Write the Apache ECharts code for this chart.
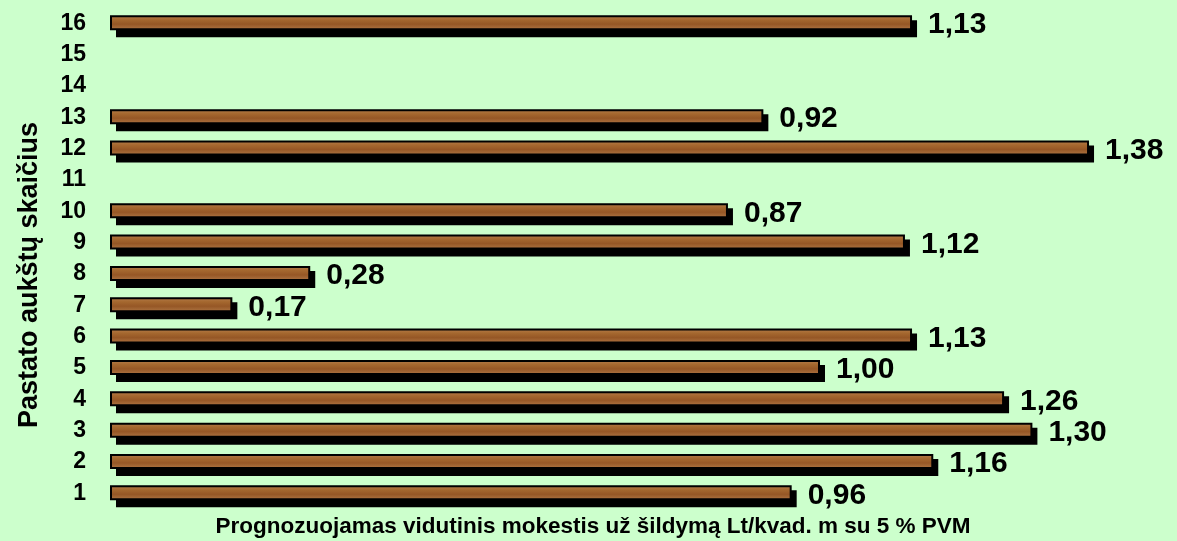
<!DOCTYPE html>
<html>
<head>
<meta charset="utf-8">
<script src="https://cdn.jsdelivr.net/npm/echarts@6/dist/echarts.min.js"></script>
<style>
html,body{margin:0;padding:0;background:#CCFFCC;}
#chart{width:1177px;height:541px;}
</style>
</head>
<body>
<div id="chart"></div>
<script>
const floors = ['1','2','3','4','5','6','7','8','9','10','11','12','13','14','15','16'];
const fees = [0.96, 1.16, 1.30, 1.26, 1.00, 1.13, 0.17, 0.28, 1.12, 0.87, null, 1.38, 0.92, null, null, 1.13];
const yAxisTitle = 'Pastato aukštų skaičius';
const xAxisTitle = 'Prognozuojamas vidutinis mokestis už šildymą Lt/kvad. m su 5 % PVM';

const data = [];
fees.forEach((v, i) => { if (v !== null) data.push([v, i]); });

const wood = new echarts.graphic.LinearGradient(0, 0, 0, 1, [
  {offset: 0, color: '#B7804F'},
  {offset: 0.3, color: '#A5682F'},
  {offset: 0.6, color: '#965726'},
  {offset: 1, color: '#B07846'}
]);

const chart = echarts.init(document.getElementById('chart'));
chart.setOption({
  backgroundColor: '#CCFFCC',
  animation: false,
  grid: {left: 111, right: 4, top: 7.5, bottom: 32},
  xAxis: {
    type: 'value', min: 0, max: 1.5,
    axisLine: {show: false}, axisTick: {show: false}, axisLabel: {show: false}, splitLine: {show: false}
  },
  yAxis: {
    type: 'category', data: floors,
    axisLine: {show: false}, axisTick: {show: false},
    axisLabel: {fontFamily: 'Liberation Sans', fontWeight: 'bold', fontSize: 23, color: '#000', margin: 25}
  },
  graphic: [
    {type: 'text', x: 30, y: 275, rotation: Math.PI / 2,
     style: {text: yAxisTitle, font: 'bold 27px "Liberation Sans"', fill: '#000', textAlign: 'center', textVerticalAlign: 'middle'}},
    {type: 'text', x: 593, y: 527, 
     style: {text: xAxisTitle, font: 'bold 22.5px "Liberation Sans"', fill: '#000', textAlign: 'center', textVerticalAlign: 'middle'}}
  ],
  series: [{
    type: 'custom',
    data: data,
    encode: {x: 0, y: 1},
    renderItem: function (params, api) {
      const v = api.value(0), c = api.value(1);
      const s = api.coord([0, c]);
      const e = api.coord([v, c]);
      const w = e[0] - s[0];
      return {
        type: 'group',
        children: [
          {type: 'rect', shape: {x: s[0] + 5, y: s[1] - 3, width: w + 1, height: 17},
           style: {fill: '#000'}},
          {type: 'rect', shape: {x: s[0], y: s[1] - 7, width: w, height: 13},
           style: {fill: wood, stroke: '#000', lineWidth: 2}},
          {type: 'text', x: e[0] + 17, y: s[1] + 2,
           style: {text: v.toFixed(2).replace('.', ','), fill: '#000', font: 'bold 30px "Liberation Sans"',
                   textAlign: 'left', textVerticalAlign: 'middle'}}
        ]
      };
    }
  }]
});
</script>
</body>
</html>
